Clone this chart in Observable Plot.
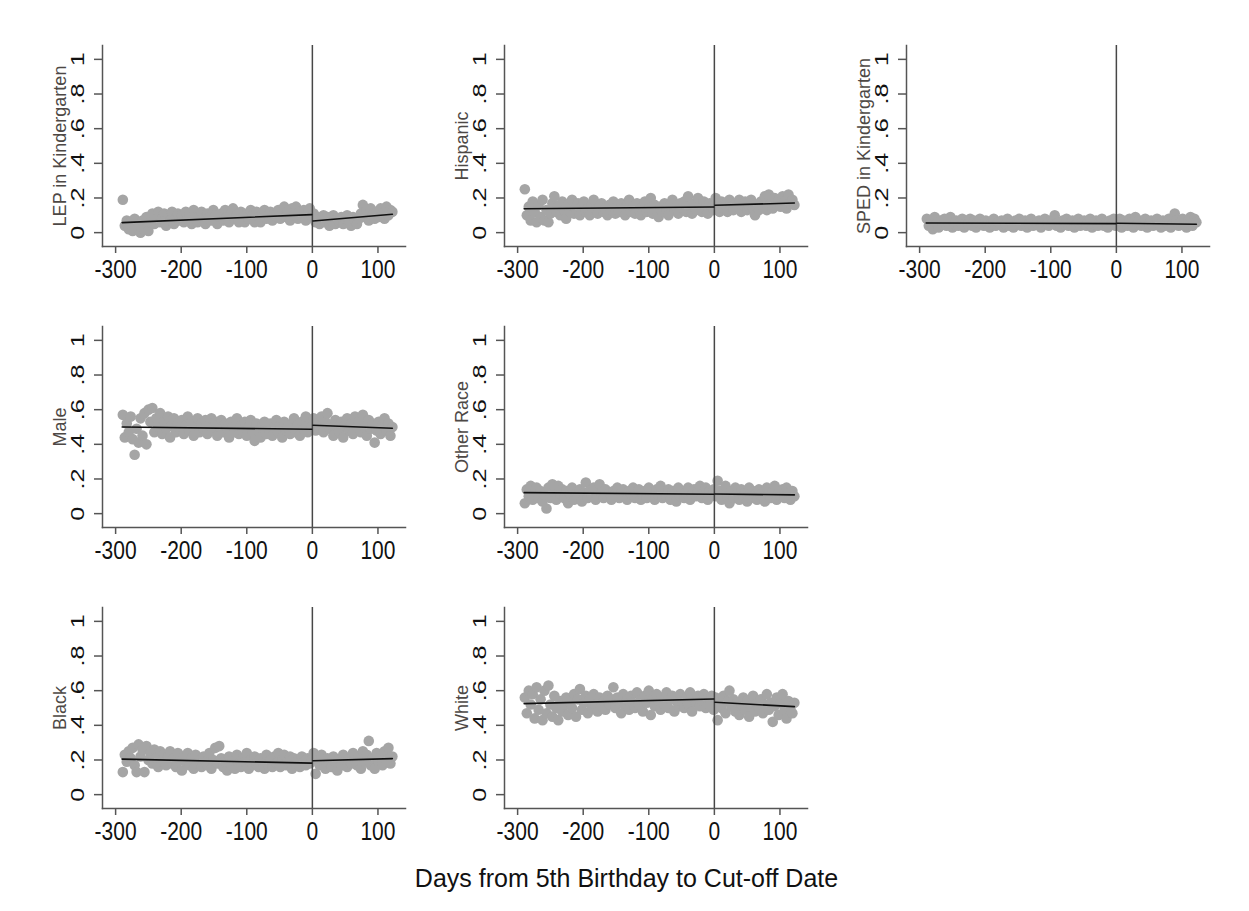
<!DOCTYPE html>
<html><head><meta charset="utf-8">
<script src="https://cdn.jsdelivr.net/npm/d3@7"></script>
<script src="https://cdn.jsdelivr.net/npm/@observablehq/plot@0.6"></script>
<style>
body{margin:0;background:#fff;}
#chart{position:relative;width:1249px;height:911px;overflow:hidden;}
.panel{position:absolute;}
.panel svg{max-width:none;overflow:visible;background:transparent;}
#xlabel{position:absolute;left:326.5px;width:600px;top:863px;text-align:center;font-family:"Liberation Sans",Arial,sans-serif;font-size:25px;line-height:30px;color:#111;}
</style></head><body>
<div id="chart"><div id="xlabel"></div></div>
<script>
const days = [
-289,-286,-283,-280,-277,-274,-271,-268,-265,-262,
-259,-256,-253,-250,-247,-244,-241,-238,-235,-232,
-229,-226,-223,-220,-217,-214,-211,-208,-205,-202,
-199,-196,-193,-190,-187,-184,-181,-178,-175,-172,
-169,-166,-163,-160,-157,-154,-151,-148,-145,-142,
-139,-136,-133,-130,-127,-124,-121,-118,-115,-112,
-109,-106,-103,-100,-97,-94,-91,-88,-85,-82,
-79,-76,-73,-70,-67,-64,-61,-58,-55,-52,
-49,-46,-43,-40,-37,-34,-31,-28,-25,-22,
-19,-16,-13,-10,-7,-4,-1,2,5,8,
11,14,17,20,23,26,29,32,35,38,
41,44,47,50,53,56,59,62,65,68,
71,74,77,80,83,86,89,92,95,98,
101,104,107,110,113,116,119,122];

const lep = [
0.19,0.04,0.07,0.02,0.06,0.01,0.08,0.03,0.05,0.00,
0.07,0.02,0.09,0.01,0.06,0.11,0.05,0.09,0.12,0.06,
0.08,0.11,0.04,0.10,0.07,0.12,0.05,0.09,0.11,0.07,
0.10,0.06,0.12,0.08,0.11,0.05,0.13,0.09,0.06,0.10,
0.12,0.08,0.05,0.11,0.09,0.07,0.13,0.10,0.05,0.09,
0.11,0.07,0.13,0.09,0.06,0.11,0.14,0.08,0.10,0.06,
0.12,0.09,0.06,0.11,0.08,0.13,0.10,0.06,0.12,0.09,
0.06,0.11,0.13,0.08,0.10,0.12,0.07,0.11,0.09,0.13,
0.08,0.11,0.15,0.09,0.12,0.07,0.14,0.10,0.15,0.08,
0.12,0.09,0.13,0.07,0.11,0.14,0.09,0.11,0.06,0.09,
0.05,0.08,0.10,0.06,0.09,0.04,0.07,0.10,0.05,0.08,
0.06,0.09,0.05,0.08,0.10,0.06,0.04,0.09,0.07,0.05,
0.08,0.11,0.16,0.09,0.13,0.07,0.14,0.10,0.08,0.12,
0.09,0.14,0.11,0.08,0.15,0.10,0.13,0.12];

const hispanic = [
0.25,0.10,0.15,0.07,0.18,0.12,0.06,0.16,0.09,0.19,
0.07,0.13,0.06,0.11,0.17,0.21,0.12,0.15,0.10,0.18,
0.13,0.08,0.16,0.12,0.19,0.11,0.14,0.17,0.10,0.15,
0.18,0.12,0.14,0.10,0.16,0.19,0.13,0.11,0.15,0.17,
0.12,0.14,0.10,0.16,0.13,0.18,0.11,0.15,0.12,0.17,
0.14,0.10,0.16,0.19,0.12,0.15,0.11,0.17,0.13,0.10,
0.15,0.18,0.12,0.14,0.20,0.11,0.16,0.13,0.09,0.15,
0.12,0.17,0.14,0.10,0.16,0.19,0.13,0.15,0.11,0.17,
0.14,0.18,0.12,0.21,0.15,0.11,0.17,0.13,0.20,0.16,
0.12,0.18,0.14,0.11,0.17,0.15,0.13,0.20,0.15,0.12,
0.18,0.14,0.16,0.12,0.19,0.15,0.13,0.17,0.14,0.19,
0.12,0.16,0.18,0.13,0.15,0.19,0.14,0.10,0.16,0.13,
0.18,0.15,0.21,0.13,0.22,0.17,0.14,0.20,0.16,0.19,
0.15,0.21,0.18,0.14,0.22,0.17,0.19,0.16];

const sped = [
0.08,0.04,0.06,0.02,0.09,0.05,0.03,0.07,0.05,0.08,
0.04,0.06,0.09,0.03,0.05,0.07,0.04,0.06,0.08,0.03,
0.06,0.05,0.08,0.04,0.07,0.03,0.06,0.08,0.05,0.04,
0.07,0.05,0.03,0.06,0.08,0.04,0.06,0.05,0.07,0.03,
0.05,0.08,0.04,0.06,0.03,0.07,0.05,0.08,0.04,0.06,
0.07,0.03,0.05,0.08,0.04,0.06,0.05,0.07,0.03,0.06,
0.08,0.05,0.04,0.07,0.06,0.10,0.04,0.06,0.03,0.07,
0.05,0.08,0.04,0.06,0.07,0.03,0.05,0.08,0.04,0.06,
0.07,0.04,0.06,0.08,0.03,0.05,0.07,0.04,0.06,0.08,
0.04,0.06,0.03,0.07,0.05,0.08,0.04,0.06,0.08,0.03,
0.07,0.05,0.04,0.08,0.06,0.03,0.09,0.05,0.07,0.04,
0.06,0.08,0.03,0.05,0.07,0.04,0.06,0.08,0.05,0.03,
0.07,0.04,0.06,0.08,0.03,0.05,0.11,0.07,0.04,0.06,
0.08,0.05,0.03,0.07,0.09,0.04,0.08,0.06];

const male = [
0.57,0.44,0.52,0.47,0.56,0.43,0.34,0.49,0.41,0.55,
0.45,0.58,0.40,0.60,0.53,0.61,0.47,0.55,0.50,0.58,
0.46,0.53,0.49,0.56,0.44,0.51,0.55,0.47,0.52,0.49,
0.54,0.46,0.51,0.56,0.48,0.53,0.45,0.50,0.55,0.47,
0.52,0.49,0.54,0.46,0.51,0.55,0.48,0.53,0.45,0.50,
0.54,0.47,0.52,0.49,0.44,0.53,0.50,0.47,0.55,0.46,
0.51,0.48,0.53,0.45,0.50,0.54,0.47,0.42,0.52,0.48,
0.44,0.51,0.53,0.46,0.49,0.52,0.45,0.50,0.54,0.47,
0.51,0.44,0.53,0.48,0.50,0.46,0.52,0.55,0.47,0.51,
0.45,0.53,0.49,0.56,0.47,0.52,0.50,0.55,0.48,0.52,
0.50,0.56,0.47,0.53,0.58,0.49,0.51,0.45,0.54,0.50,
0.47,0.53,0.44,0.51,0.55,0.48,0.52,0.46,0.56,0.50,
0.53,0.47,0.57,0.50,0.45,0.54,0.49,0.52,0.41,0.48,
0.53,0.46,0.51,0.55,0.48,0.52,0.45,0.50];

const otherRace = [
0.06,0.14,0.10,0.16,0.08,0.12,0.15,0.09,0.13,0.07,
0.11,0.03,0.15,0.09,0.17,0.12,0.08,0.16,0.11,0.14,
0.09,0.13,0.06,0.11,0.15,0.08,0.12,0.10,0.14,0.07,
0.12,0.18,0.09,0.13,0.10,0.15,0.08,0.11,0.17,0.12,
0.09,0.14,0.10,0.12,0.08,0.13,0.11,0.15,0.09,0.12,
0.14,0.10,0.08,0.13,0.11,0.15,0.09,0.12,0.14,0.08,
0.11,0.13,0.09,0.15,0.10,0.12,0.08,0.14,0.11,0.16,
0.09,0.12,0.10,0.14,0.08,0.13,0.11,0.07,0.15,0.10,
0.13,0.09,0.12,0.15,0.08,0.11,0.14,0.10,0.13,0.16,
0.09,0.12,0.15,0.08,0.13,0.11,0.14,0.10,0.19,0.13,
0.08,0.12,0.16,0.10,0.06,0.13,0.09,0.15,0.11,0.08,
0.14,0.10,0.12,0.07,0.15,0.09,0.13,0.11,0.08,0.14,
0.10,0.12,0.07,0.15,0.11,0.09,0.13,0.16,0.08,0.12,
0.10,0.14,0.09,0.15,0.12,0.08,0.13,0.10];

const black = [
0.13,0.23,0.19,0.25,0.21,0.27,0.17,0.13,0.29,0.22,
0.26,0.13,0.28,0.20,0.24,0.18,0.26,0.21,0.16,0.25,
0.19,0.23,0.17,0.22,0.25,0.18,0.21,0.16,0.24,0.20,
0.14,0.22,0.19,0.24,0.17,0.21,0.15,0.23,0.18,0.20,
0.16,0.22,0.19,0.17,0.24,0.15,0.20,0.27,0.18,0.28,
0.21,0.16,0.19,0.14,0.22,0.17,0.20,0.15,0.23,0.18,
0.16,0.21,0.19,0.24,0.15,0.20,0.17,0.22,0.18,0.16,
0.21,0.19,0.15,0.23,0.17,0.20,0.16,0.22,0.18,0.24,
0.16,0.20,0.23,0.17,0.19,0.22,0.15,0.21,0.18,0.20,
0.16,0.22,0.19,0.17,0.21,0.18,0.20,0.24,0.12,0.20,
0.17,0.23,0.19,0.15,0.21,0.18,0.16,0.22,0.19,0.14,
0.20,0.17,0.23,0.19,0.16,0.21,0.18,0.24,0.20,0.17,
0.22,0.15,0.25,0.19,0.23,0.31,0.17,0.21,0.15,0.24,
0.19,0.22,0.17,0.25,0.20,0.27,0.18,0.22];

const white = [
0.56,0.47,0.60,0.52,0.58,0.44,0.62,0.49,0.55,0.43,
0.60,0.47,0.63,0.52,0.45,0.57,0.50,0.43,0.54,0.48,
0.52,0.56,0.46,0.53,0.50,0.58,0.45,0.55,0.61,0.49,
0.53,0.57,0.47,0.55,0.50,0.58,0.52,0.48,0.56,0.51,
0.54,0.49,0.57,0.52,0.55,0.62,0.50,0.56,0.53,0.47,
0.58,0.51,0.55,0.49,0.57,0.53,0.50,0.59,0.52,0.55,
0.48,0.57,0.53,0.60,0.46,0.55,0.51,0.58,0.54,0.49,
0.56,0.52,0.59,0.50,0.55,0.57,0.48,0.54,0.51,0.58,
0.53,0.50,0.56,0.52,0.59,0.48,0.55,0.53,0.57,0.51,
0.54,0.58,0.50,0.55,0.52,0.57,0.49,0.56,0.43,0.53,
0.50,0.57,0.47,0.54,0.60,0.51,0.55,0.48,0.53,0.46,
0.52,0.56,0.49,0.54,0.45,0.51,0.57,0.48,0.53,0.50,
0.55,0.47,0.52,0.58,0.49,0.53,0.42,0.51,0.56,0.46,
0.53,0.58,0.49,0.44,0.54,0.50,0.47,0.53];

// fitted line endpoints: [left at -290, left at -1, right at 1, right at 122]
const fitDays = [-290, -1, 1, 122];
const fitLEP = [0.058, 0.104, 0.067, 0.106];
const fitHispanic = [0.138, 0.148, 0.158, 0.171];
const fitSPED = [0.056, 0.052, 0.054, 0.048];
const fitMale = [0.500, 0.487, 0.510, 0.493];
const fitOtherRace = [0.121, 0.112, 0.113, 0.108];
const fitBlack = [0.205, 0.182, 0.196, 0.208];
const fitWhite = [0.525, 0.552, 0.533, 0.508];

const panelTitles = ["LEP in Kindergarten", "Hispanic", "SPED in Kindergarten", "Male", "Other Race", "Black", "White"];
const xTicks = [-300, -200, -100, 0, 100];
const yTicks = [0, 0.2, 0.4, 0.6, 0.8, 1];
const yTickLabels = ["0", ".2", ".4", ".6", ".8", "1"];
const xAxisTitle = "Days from 5th Birthday to Cut-off Date";

const seriesList = [lep, hispanic, sped, male, otherRace, black, white];
const fitList = [fitLEP, fitHispanic, fitSPED, fitMale, fitOtherRace, fitBlack, fitWhite];
const gridPos = [[0,0],[0,1],[0,2],[1,0],[1,1],[2,0],[2,1]];

const FONT = '"Liberation Sans", Arial, sans-serif';
const chart = document.getElementById("chart");
document.getElementById("xlabel").textContent = xAxisTitle;

seriesList.forEach((vals, k) => {
  const pts = days.map((d, i) => ({day: d, v: vals[i]}));
  const f = fitList[k];
  const leftFit = [{day: fitDays[0], v: f[0]}, {day: fitDays[1], v: f[1]}];
  const rightFit = [{day: fitDays[2], v: f[2]}, {day: fitDays[3], v: f[3]}];
  const svg = Plot.plot({
    width: 402, height: 281,
    marginLeft: 62, marginRight: 37, marginTop: 45, marginBottom: 35,
    style: {fontFamily: FONT, fontSize: "21px", color: "#111", background: "transparent"},
    x: {domain: [-320, 142]},
    y: {domain: [-0.08, 1.08]},
    marks: [
      Plot.dot(pts, {x: "day", y: "v", r: 5.3, fill: "#a5a5a5", stroke: null}),
      Plot.ruleX([0], {stroke: "#474747", strokeWidth: 1.5}),
      Plot.line(leftFit, {x: "day", y: "v", stroke: "#111", strokeWidth: 1.6}),
      Plot.line(rightFit, {x: "day", y: "v", stroke: "#111", strokeWidth: 1.6}),
      Plot.frame({anchor: "left", stroke: "#555", strokeWidth: 1.5}),
      Plot.frame({anchor: "bottom", stroke: "#555", strokeWidth: 1.5}),
      Plot.axisX({ticks: xTicks, tickSize: 7, tickPadding: 6, stroke: "#555", strokeWidth: 1.5, fill: "#111", label: null, tickFormat: d => String(d)}),
      Plot.axisY({ticks: yTicks, tickSize: 8, stroke: "#555", strokeWidth: 1.5, label: null, tickFormat: () => ""}),
      Plot.text(yTicks, {y: d => d, text: (d, i) => yTickLabels[i], frameAnchor: "left", dx: -18.4, rotate: -90, textAnchor: "middle", lineAnchor: "bottom", fontSize: 18, fill: "#111"}),
      Plot.text([panelTitles[k]], {y: 0.5, frameAnchor: "left", dx: -36.7, rotate: -90, textAnchor: "middle", lineAnchor: "bottom", fontSize: 18, fill: "#4d4845"})
    ]
  });
  d3.select(svg).selectAll("text").each(function() {
    const t = this.getAttribute("transform") || "";
    const s = this.textContent;
    if (xTicks.map(String).includes(s) && !t.includes("rotate")) {
      this.setAttribute("transform", t + " scale(1,1.22)");
    } else if (yTickLabels.includes(s) && t.includes("rotate")) {
      this.setAttribute("transform", t + " scale(1.4,1)");
    }
  });
  const div = document.createElement("div");
  div.className = "panel";
  div.style.left = (40 + gridPos[k][1] * 401.8) + "px";
  div.style.top = (gridPos[k][0] * 281) + "px";
  div.appendChild(svg);
  chart.appendChild(div);
});
</script>
</body></html>
